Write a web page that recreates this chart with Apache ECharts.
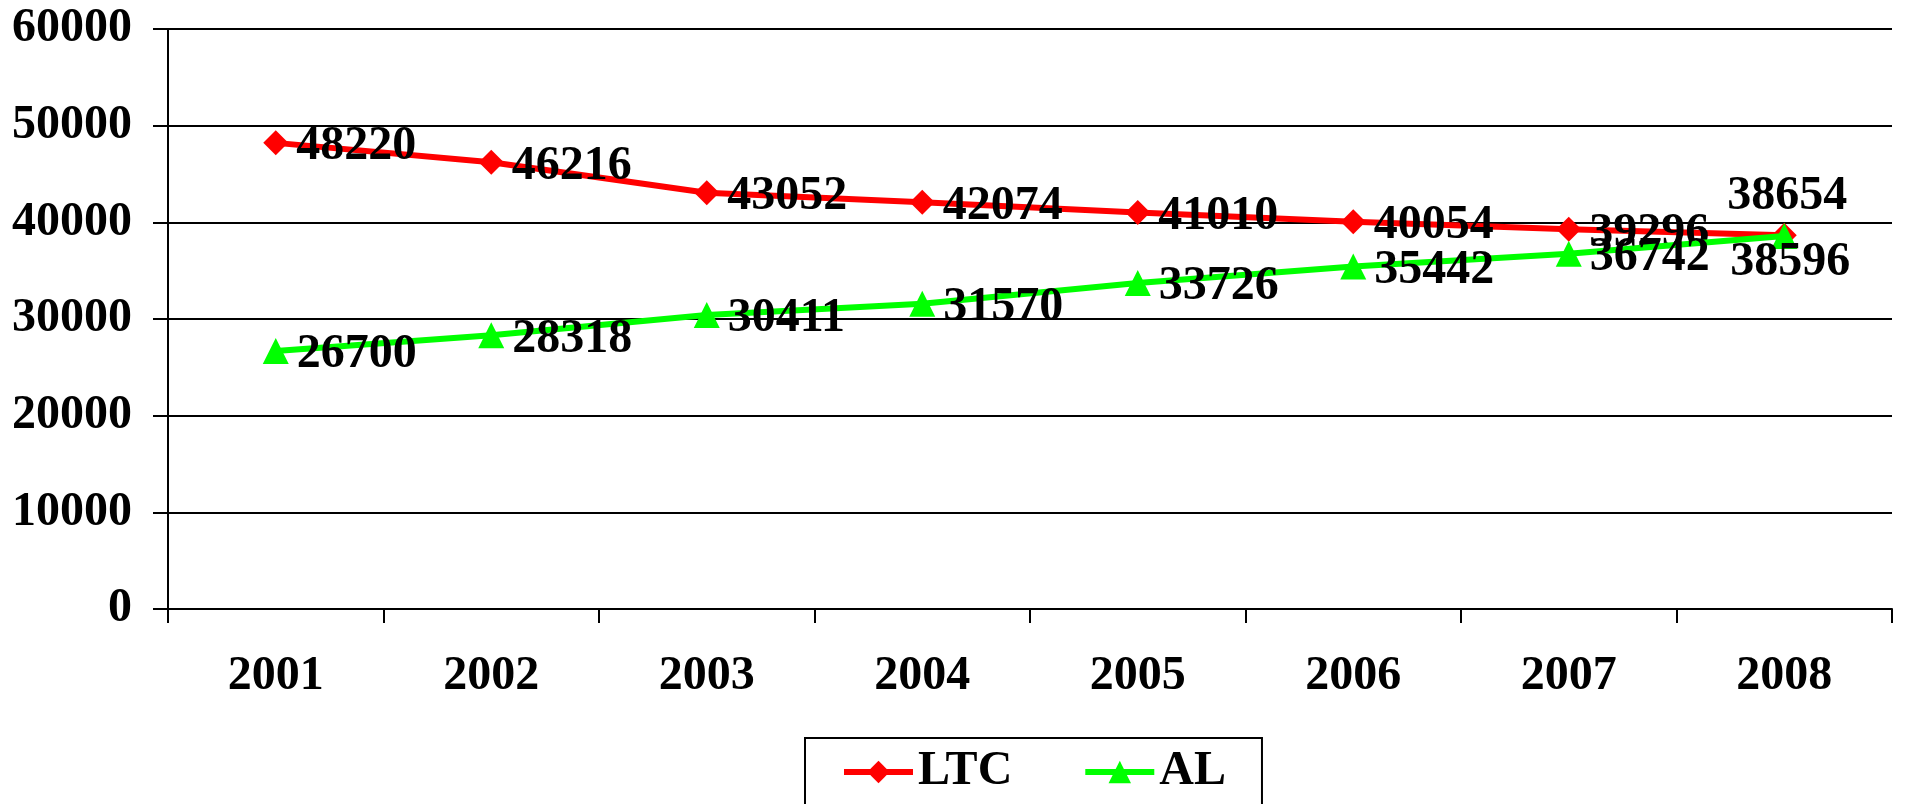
<!DOCTYPE html>
<html>
<head>
<meta charset="utf-8">
<script src="https://cdn.jsdelivr.net/npm/echarts@6/dist/echarts.min.js"></script>
<style>
  html, body { margin: 0; padding: 0; background: #fff; }
  #main { width: 1906px; height: 804px; }
</style>
</head>
<body>
<div id="main"></div>
<script>
var years = ['2001', '2002', '2003', '2004', '2005', '2006', '2007', '2008'];
var ltcValues = [48220, 46216, 43052, 42074, 41010, 40054, 39296, 38654];
var alValues = [26700, 28318, 30411, 31570, 33726, 35442, 36742, 38596];

var FONT = "Liberation Serif";
var FS = 48;

var chart = echarts.init(document.getElementById('main'));

// last point labels: LTC above, AL below
function withLabels(values, lastLabel) {
    return values.map(function (v, i) {
        if (i === values.length - 1) {
            return { value: v, label: lastLabel };
        }
        return v;
    });
}

var option = {
    animation: false,
    textStyle: { fontFamily: FONT },
    grid: {
        left: 168,
        right: 14,
        top: 29,
        bottom: 195
    },
    legend: {
        left: 805,
        top: 738,
        padding: [10, 36, 30, 36],
        borderColor: '#000',
        borderWidth: 2,
        itemWidth: 69,
        itemHeight: 28,
        itemGap: 70,
        textStyle: {
            fontFamily: FONT,
            fontWeight: 'bold',
            fontSize: FS,
            color: '#000'
        },
        data: [
            { name: 'LTC', lineStyle: { width: 6 } },
            { name: 'AL', lineStyle: { width: 6 } }
        ]
    },
    xAxis: {
        type: 'category',
        boundaryGap: true,
        data: years,
        axisLine: { lineStyle: { color: '#000', width: 2 } },
        axisTick: { show: true, length: 14, lineStyle: { color: '#000', width: 2 } },
        axisLabel: {
            margin: 44,
            color: '#000',
            fontFamily: FONT,
            fontWeight: 'bold',
            fontSize: FS
        }
    },
    yAxis: {
        type: 'value',
        min: 0,
        max: 60000,
        interval: 10000,
        axisLine: { show: true, lineStyle: { color: '#000', width: 2 } },
        axisTick: { show: true, length: 15, lineStyle: { color: '#000', width: 2 } },
        splitLine: { lineStyle: { color: '#000', width: 2 } },
        axisLabel: {
            margin: 36,
            color: '#000',
            fontFamily: FONT,
            fontWeight: 'bold',
            fontSize: FS,
            formatter: function (v) { return String(v); }
        }
    },
    series: [{
        name: 'LTC',
        type: 'line',
        symbol: 'diamond',
        symbolSize: 25,
        lineStyle: { color: '#ff0000', width: 6 },
        itemStyle: { color: '#ff0000' },
        label: {
            show: true,
            position: 'right',
            distance: 8,
            offset: [0, 4],
            color: '#000',
            fontFamily: FONT,
            fontWeight: 'bold',
            fontSize: FS
        },
        data: withLabels(ltcValues, { position: 'top', distance: 2, offset: [3, 0] }),
        z: 2
    }, {
        name: 'AL',
        type: 'line',
        symbol: 'triangle',
        symbolSize: 26,
        lineStyle: { color: '#00ff00', width: 6 },
        itemStyle: { color: '#00ff00' },
        label: {
            show: true,
            position: 'right',
            distance: 8,
            offset: [0, 4],
            color: '#000',
            fontFamily: FONT,
            fontWeight: 'bold',
            fontSize: FS
        },
        data: withLabels(alValues, { position: 'bottom', distance: 0, offset: [6, -10] }),
        z: 3
    }]
};
chart.setOption(option);
</script>
</body>
</html>
